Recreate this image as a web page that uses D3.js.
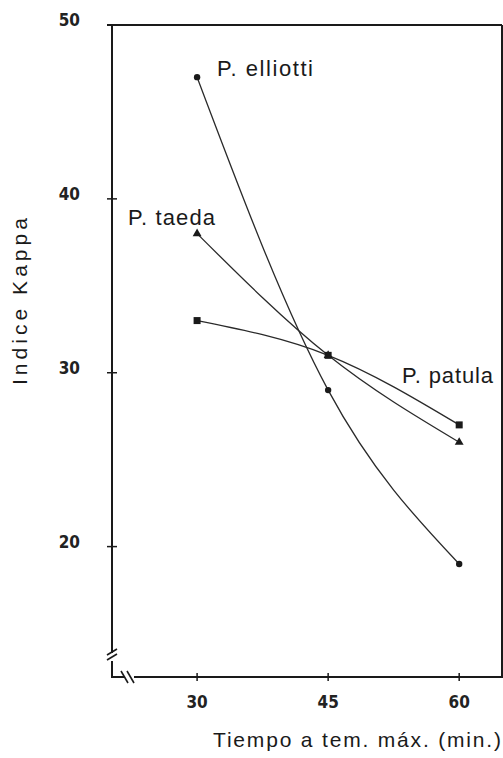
<!DOCTYPE html>
<html>
<head>
<meta charset="utf-8">
<script src="https://cdn.jsdelivr.net/npm/d3@7"></script>
<style>
  body { margin: 0; background: #fff; }
  svg { display: block; }
</style>
</head>
<body>
<svg id="chart" width="503" height="758"></svg>
<script>
// data
var times = [30, 45, 60];
var yTicks = [50, 40, 30, 20];
var elliotti = [47, 29, 19];
var taeda = [38, 31, 26];
var patula = [33, 31, 27];
var seriesNames = ["P. elliotti", "P. taeda", "P. patula"];

var ink = "#1a1a1a";
var svg = d3.select("#chart");

var x = d3.scaleLinear().domain([20.26, 64.9]).range([112, 502]);
var y = d3.scaleLinear().domain([12.5, 50]).range([677, 25]);

var line = d3.line()
  .x(d => x(d.t))
  .y(d => y(d.v))
  .curve(d3.curveNatural);

function pts(vals) { return vals.map((v, i) => ({t: times[i], v: v})); }

var tickFont = "bold 17px 'DejaVu Sans Condensed', 'Liberation Sans', sans-serif";
var textFont = "22px 'Liberation Sans', Arial, sans-serif";

// frame
var frame = svg.append("g").attr("stroke", ink).attr("fill", "none").attr("stroke-width", 2);
frame.append("line").attr("x1", 107).attr("x2", x.range()[1]).attr("y1", y(50)).attr("y2", y(50));
frame.append("line").attr("x1", x.range()[1]).attr("x2", x.range()[1]).attr("y1", y(50)).attr("y2", y.range()[0]);
// left axis with break
frame.append("line").attr("x1", 112).attr("x2", 112).attr("y1", y(50)).attr("y2", 653);
frame.append("line").attr("x1", 112).attr("x2", 112).attr("y1", 661).attr("y2", 677);
// bottom axis with break
frame.append("line").attr("x1", 111).attr("x2", 125).attr("y1", 677).attr("y2", 677);
frame.append("line").attr("x1", 134).attr("x2", x.range()[1] + 1).attr("y1", 677).attr("y2", 677);

// break slashes
var br = svg.append("g").attr("stroke", ink).attr("stroke-width", 1.6);
[0, 5].forEach(o => {
  br.append("line").attr("x1", 107).attr("y1", 655 + o).attr("x2", 117).attr("y2", 649 + o);
});
[0, 6].forEach(o => {
  br.append("line").attr("x1", 121 + o).attr("y1", 671).attr("x2", 128 + o).attr("y2", 683);
});

// y ticks
yTicks.slice(1).forEach(t => {
  svg.append("line").attr("stroke", ink).attr("stroke-width", 1.5)
    .attr("x1", 107).attr("x2", 117).attr("y1", y(t)).attr("y2", y(t));
});
svg.selectAll(".ylab").data(yTicks).enter().append("text")
  .attr("x", 80).attr("y", d => y(d) + 1)
  .attr("text-anchor", "end")
  .style("font", tickFont)
  .attr("fill", "#222")
  .text(d => d);

// x ticks
times.forEach(t => {
  svg.append("line").attr("stroke", ink).attr("stroke-width", 1.5)
    .attr("x1", x(t)).attr("x2", x(t)).attr("y1", 673).attr("y2", 681);
});
svg.selectAll(".xlab").data(times).enter().append("text")
  .attr("x", d => x(d)).attr("y", 708)
  .attr("text-anchor", "middle")
  .style("font", tickFont)
  .attr("fill", "#222")
  .text(d => d);

// curves
var allSeries = [elliotti, taeda, patula];
svg.selectAll(".curve").data(allSeries).enter().append("path")
  .attr("d", d => line(pts(d)))
  .attr("fill", "none")
  .attr("stroke", "#2a2a2a")
  .attr("stroke-width", 1.3);

// markers
svg.selectAll(".dot").data(pts(elliotti)).enter().append("circle")
  .attr("cx", d => x(d.t)).attr("cy", d => y(d.v)).attr("r", 3.2).attr("fill", ink);
svg.selectAll(".tri").data(pts(taeda)).enter().append("path")
  .attr("transform", d => `translate(${x(d.t)},${y(d.v)})`)
  .attr("d", d3.symbol(d3.symbolTriangle, 34)).attr("fill", ink);
svg.selectAll(".sq").data(pts(patula)).enter().append("rect")
  .attr("x", d => x(d.t) - 3.5).attr("y", d => y(d.v) - 3.5)
  .attr("width", 7).attr("height", 7).attr("fill", ink);

// series labels
var labelPos = [[217, 76, 96], [128, 225, 87], [402, 383, 91]];
svg.selectAll(".slab").data(seriesNames).enter().append("text")
  .attr("x", (d, i) => labelPos[i][0]).attr("y", (d, i) => labelPos[i][1])
  .attr("textLength", (d, i) => labelPos[i][2])
  .attr("lengthAdjust", "spacing")
  .style("font", textFont)
  .attr("fill", ink)
  .text(d => d);

// axis titles
svg.append("text")
  .attr("transform", "translate(27,385) rotate(-90)")
  .attr("textLength", 167)
  .attr("lengthAdjust", "spacing")
  .style("font", "21px 'Liberation Sans', Arial, sans-serif")
  .attr("fill", ink)
  .text("Indice  Kappa");
svg.append("text")
  .attr("x", 213).attr("y", 747)
  .attr("textLength", 288)
  .attr("lengthAdjust", "spacing")
  .style("font", "21px 'Liberation Sans', Arial, sans-serif")
  .attr("fill", ink)
  .text("Tiempo a tem. máx. (min.)");
</script>
</body>
</html>
